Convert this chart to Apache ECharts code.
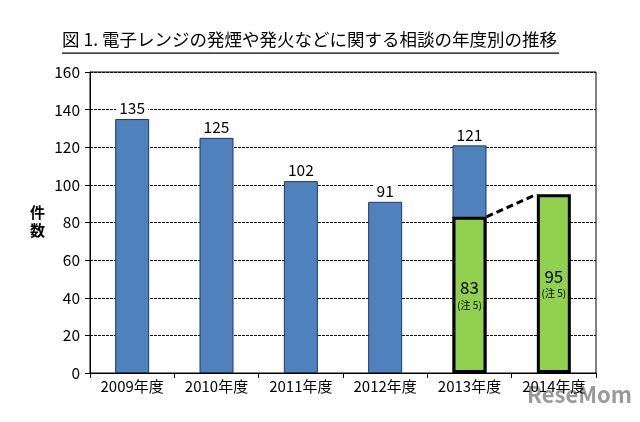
<!DOCTYPE html>
<html><head><meta charset="utf-8">
<script src="https://cdn.jsdelivr.net/npm/echarts@6/dist/echarts.min.js"></script>
<style>html,body{margin:0;padding:0;background:#fff}#c{width:640px;height:422px}</style>
</head><body><div id="c"></div>
<script>
const categories = ['2009年度','2010年度','2011年度','2012年度','2013年度','2014年度'];
const totalCounts = [135, 125, 102, 91, 121, null];
const noteCounts = [null, null, null, null, 83, 95];
const yTicks = {min: 0, max: 160, interval: 20};
const titleText = '図 1. 電子レンジの発煙や発火などに関する相談の年度別の推移';
const yName = '件\n数';
const noteText = '(注 5)';
const FONT = '"Noto Sans CJK JP", "Noto Sans", sans-serif';
const BW = 34;

const chart = echarts.init(document.getElementById('c'), null, {renderer: 'canvas'});
const linkData = [[4, noteCounts[4], 5, noteCounts[5]]];

chart.setOption({
  animation: false,
  backgroundColor: '#fff',
  grid: {left: 90, right: 44, top: 72, bottom: 49, show: true, borderColor: '#000', borderWidth: 1, backgroundColor: 'transparent'},
  graphic: [
    {type: 'text', left: 62, top: 31, style: {text: titleText, font: '17.5px ' + FONT, fill: '#000'}},
    {type: 'rect', left: 62, top: 52.5, shape: {width: 497, height: 1.2}, style: {fill: '#000'}},
    {type: 'text', left: 30, top: 203, style: {text: yName, font: 'bold 15px ' + FONT, fill: '#000', lineHeight: 18}},
    {type: 'text', right: 8, bottom: 16, style: {text: 'ReseMom', font: 'bold 22px ' + FONT, fill: 'rgba(120,120,120,0.75)'}}
  ],
  xAxis: {
    type: 'category', data: categories,
    axisLine: {lineStyle: {color: '#000', width: 1}},
    axisTick: {show: true, length: 5, lineStyle: {color: '#000'}},
    axisLabel: {color: '#000', fontSize: 15, fontFamily: FONT, margin: 6}
  },
  yAxis: {
    type: 'value', min: yTicks.min, max: yTicks.max, interval: yTicks.interval,
    axisLine: {show: true, lineStyle: {color: '#000'}},
    axisTick: {show: true, length: 5, lineStyle: {color: '#000'}},
    axisLabel: {color: '#000', fontSize: 15.5, fontFamily: FONT, margin: 10},
    splitLine: {show: true, lineStyle: {color: '#111', type: [3, 1], width: 1}}
  },
  series: [
    {
      type: 'bar', data: totalCounts, barWidth: BW, barGap: '-100%',
      itemStyle: {color: '#4F81BD', borderColor: '#1F3864', borderWidth: 1},
      label: {show: true, position: 'top', color: '#000', fontSize: 15.5, fontFamily: FONT, distance: 3,
        backgroundColor: '#fff', padding: [0, 3]}
    },
    {
      type: 'bar', data: noteCounts, barWidth: BW, barGap: '-100%', z: 3,
      itemStyle: {color: '#92D050', borderColor: '#000', borderWidth: 3},
      label: {
        show: true, position: 'inside',
        formatter: p => '{v|' + p.value + '}\n{n|' + noteText + '}',
        rich: {
          v: {fontSize: 17, color: '#000', fontFamily: FONT, lineHeight: 20},
          n: {fontSize: 10, color: '#000', fontFamily: FONT, lineHeight: 14}
        }
      }
    },
    {
      type: 'custom', z: 4, data: linkData,
      renderItem: (params, api) => {
        const a = api.coord([api.value(0), api.value(1)]);
        const b = api.coord([api.value(2), api.value(3)]);
        return {
          type: 'line',
          shape: {x1: a[0] + BW / 2, y1: a[1], x2: b[0] - BW / 2, y2: b[1]},
          style: {stroke: '#000', lineWidth: 3, lineDash: [7, 4]}
        };
      }
    }
  ]
});
</script></body></html>
